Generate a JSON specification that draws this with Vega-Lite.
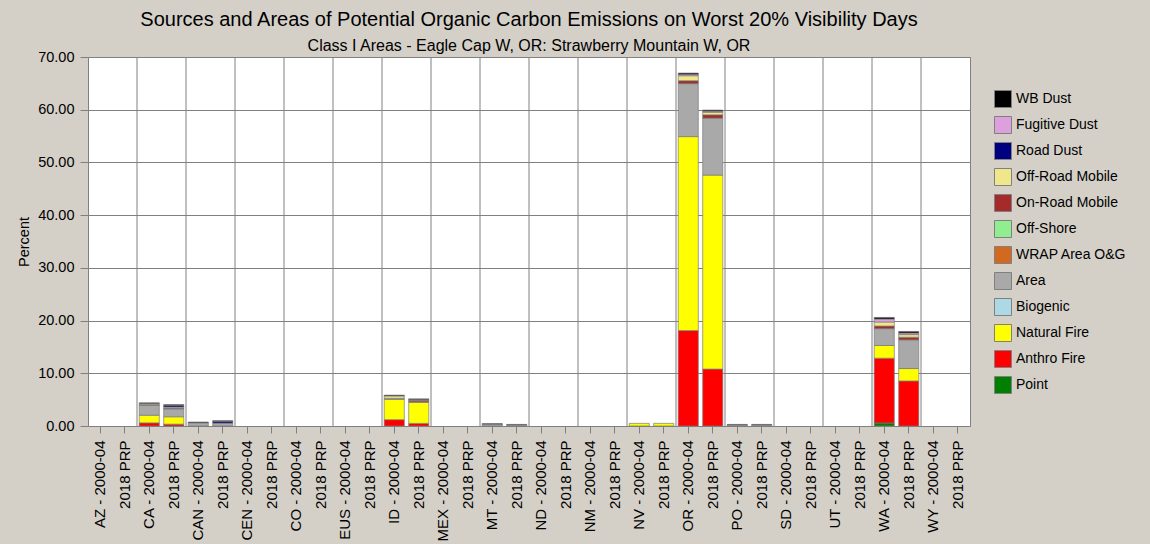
{
  "$schema": "https://vega.github.io/schema/vega-lite/v6.json",
  "width": 882,
  "height": 369,
  "autosize": {"type": "none"},
  "padding": {"left": 88, "top": 57, "right": 180, "bottom": 118},
  "background": "#D4D0C8",
  "title": {
    "text": "Sources and Areas of Potential Organic Carbon Emissions on Worst 20% Visibility Days",
    "subtitle": "Class I Areas - Eagle Cap W, OR: Strawberry Mountain W, OR",
    "anchor": "middle",
    "font": "Liberation Sans",
    "subtitleFont": "Liberation Sans",
    "fontSize": 20,
    "subtitleFontSize": 16,
    "fontWeight": "normal",
    "color": "black",
    "subtitleColor": "black",
    "offset": -5,
    "subtitlePadding": 8
  },
  "datasets": {
    "groups": [
      {"c": "CA - 2000-04"}, {"c": "CAN - 2000-04"}, {"c": "CEN - 2000-04"}, {"c": "CO - 2000-04"},
      {"c": "EUS - 2000-04"}, {"c": "ID - 2000-04"}, {"c": "MEX - 2000-04"}, {"c": "MT - 2000-04"},
      {"c": "ND - 2000-04"}, {"c": "NM - 2000-04"}, {"c": "NV - 2000-04"}, {"c": "OR - 2000-04"},
      {"c": "PO - 2000-04"}, {"c": "SD - 2000-04"}, {"c": "UT - 2000-04"}, {"c": "WA - 2000-04"},
      {"c": "WY - 2000-04"}
    ],
    "emis": [
      {"c": "CA - 2000-04", "s": "Anthro Fire", "v": 0.6},
      {"c": "CA - 2000-04", "s": "Natural Fire", "v": 1.45},
      {"c": "CA - 2000-04", "s": "Area", "v": 1.9},
      {"c": "CA - 2000-04", "s": "On-Road Mobile", "v": 0.1},
      {"c": "CA - 2000-04", "s": "Off-Road Mobile", "v": 0.2},
      {"c": "CA - 2000-04", "s": "WB Dust", "v": 0.15},
      {"c": "CA - 2018 PRP", "s": "Anthro Fire", "v": 0.35},
      {"c": "CA - 2018 PRP", "s": "Natural Fire", "v": 1.4},
      {"c": "CA - 2018 PRP", "s": "Area", "v": 1.5},
      {"c": "CA - 2018 PRP", "s": "On-Road Mobile", "v": 0.15},
      {"c": "CA - 2018 PRP", "s": "Off-Road Mobile", "v": 0.2},
      {"c": "CA - 2018 PRP", "s": "Road Dust", "v": 0.35},
      {"c": "CA - 2018 PRP", "s": "WB Dust", "v": 0.1},
      {"c": "CAN - 2000-04", "s": "Area", "v": 0.6},
      {"c": "CAN - 2000-04", "s": "WB Dust", "v": 0.15},
      {"c": "CAN - 2018 PRP", "s": "Area", "v": 0.55},
      {"c": "CAN - 2018 PRP", "s": "Road Dust", "v": 0.35},
      {"c": "CAN - 2018 PRP", "s": "WB Dust", "v": 0.1},
      {"c": "ID - 2000-04", "s": "Anthro Fire", "v": 1.2},
      {"c": "ID - 2000-04", "s": "Natural Fire", "v": 3.85},
      {"c": "ID - 2000-04", "s": "Area", "v": 0.2},
      {"c": "ID - 2000-04", "s": "Off-Road Mobile", "v": 0.45},
      {"c": "ID - 2000-04", "s": "WB Dust", "v": 0.15},
      {"c": "ID - 2018 PRP", "s": "Anthro Fire", "v": 0.5},
      {"c": "ID - 2018 PRP", "s": "Natural Fire", "v": 4.0},
      {"c": "ID - 2018 PRP", "s": "Area", "v": 0.1},
      {"c": "ID - 2018 PRP", "s": "On-Road Mobile", "v": 0.3},
      {"c": "ID - 2018 PRP", "s": "Off-Road Mobile", "v": 0.1},
      {"c": "ID - 2018 PRP", "s": "WB Dust", "v": 0.15},
      {"c": "MT - 2000-04", "s": "Area", "v": 0.35},
      {"c": "MT - 2000-04", "s": "WB Dust", "v": 0.1},
      {"c": "MT - 2018 PRP", "s": "Area", "v": 0.2},
      {"c": "MT - 2018 PRP", "s": "WB Dust", "v": 0.1},
      {"c": "NV - 2000-04", "s": "Natural Fire", "v": 0.5},
      {"c": "NV - 2018 PRP", "s": "Natural Fire", "v": 0.5},
      {"c": "OR - 2000-04", "s": "Anthro Fire", "v": 18.1},
      {"c": "OR - 2000-04", "s": "Natural Fire", "v": 36.8},
      {"c": "OR - 2000-04", "s": "Area", "v": 10.05},
      {"c": "OR - 2000-04", "s": "On-Road Mobile", "v": 0.55},
      {"c": "OR - 2000-04", "s": "Off-Road Mobile", "v": 0.95},
      {"c": "OR - 2000-04", "s": "Fugitive Dust", "v": 0.25},
      {"c": "OR - 2000-04", "s": "WB Dust", "v": 0.25},
      {"c": "OR - 2018 PRP", "s": "Anthro Fire", "v": 10.8},
      {"c": "OR - 2018 PRP", "s": "Natural Fire", "v": 36.8},
      {"c": "OR - 2018 PRP", "s": "Area", "v": 10.8},
      {"c": "OR - 2018 PRP", "s": "On-Road Mobile", "v": 0.63},
      {"c": "OR - 2018 PRP", "s": "Off-Road Mobile", "v": 0.5},
      {"c": "OR - 2018 PRP", "s": "Fugitive Dust", "v": 0.2},
      {"c": "OR - 2018 PRP", "s": "WB Dust", "v": 0.2},
      {"c": "PO - 2000-04", "s": "Area", "v": 0.2},
      {"c": "PO - 2000-04", "s": "WB Dust", "v": 0.1},
      {"c": "PO - 2018 PRP", "s": "Area", "v": 0.2},
      {"c": "PO - 2018 PRP", "s": "WB Dust", "v": 0.1},
      {"c": "WA - 2000-04", "s": "Point", "v": 0.57},
      {"c": "WA - 2000-04", "s": "Anthro Fire", "v": 12.3},
      {"c": "WA - 2000-04", "s": "Natural Fire", "v": 2.4},
      {"c": "WA - 2000-04", "s": "Area", "v": 3.2},
      {"c": "WA - 2000-04", "s": "On-Road Mobile", "v": 0.5},
      {"c": "WA - 2000-04", "s": "Off-Road Mobile", "v": 0.76},
      {"c": "WA - 2000-04", "s": "Fugitive Dust", "v": 0.57},
      {"c": "WA - 2000-04", "s": "WB Dust", "v": 0.3},
      {"c": "WA - 2018 PRP", "s": "Anthro Fire", "v": 8.55},
      {"c": "WA - 2018 PRP", "s": "Natural Fire", "v": 2.35},
      {"c": "WA - 2018 PRP", "s": "Area", "v": 5.44},
      {"c": "WA - 2018 PRP", "s": "On-Road Mobile", "v": 0.5},
      {"c": "WA - 2018 PRP", "s": "Off-Road Mobile", "v": 0.5},
      {"c": "WA - 2018 PRP", "s": "Fugitive Dust", "v": 0.3},
      {"c": "WA - 2018 PRP", "s": "WB Dust", "v": 0.3}
    ]
  },
  "layer": [
    {
      "data": {"name": "groups"},
      "mark": {"type": "rule", "color": "#808080", "strokeWidth": 1},
      "encoding": {
        "x": {
          "field": "c", "type": "nominal", "bandPosition": 0, "title": null,
          "scale": {
            "domain": ["AZ - 2000-04", "AZ - 2018 PRP", "CA - 2000-04", "CA - 2018 PRP", "CAN - 2000-04", "CAN - 2018 PRP", "CEN - 2000-04", "CEN - 2018 PRP", "CO - 2000-04", "CO - 2018 PRP", "EUS - 2000-04", "EUS - 2018 PRP", "ID - 2000-04", "ID - 2018 PRP", "MEX - 2000-04", "MEX - 2018 PRP", "MT - 2000-04", "MT - 2018 PRP", "ND - 2000-04", "ND - 2018 PRP", "NM - 2000-04", "NM - 2018 PRP", "NV - 2000-04", "NV - 2018 PRP", "OR - 2000-04", "OR - 2018 PRP", "PO - 2000-04", "PO - 2018 PRP", "SD - 2000-04", "SD - 2018 PRP", "UT - 2000-04", "UT - 2018 PRP", "WA - 2000-04", "WA - 2018 PRP", "WY - 2000-04", "WY - 2018 PRP"],
            "paddingInner": 0, "paddingOuter": 0
          },
          "axis": {"labelExpr": "indexof(datum.value, '2018 PRP') >= 0 ? '2018 PRP' : datum.value"}
        }
      }
    },
    {
      "data": {"name": "emis"},
      "transform": [
        {"calculate": "indexof(['Point', 'Anthro Fire', 'Natural Fire', 'Biogenic', 'Area', 'WRAP Area O&G', 'Off-Shore', 'On-Road Mobile', 'Off-Road Mobile', 'Road Dust', 'Fugitive Dust', 'WB Dust'], datum.s)", "as": "stackOrder"}
      ],
      "mark": {"type": "bar", "width": {"band": 0.82}, "stroke": "#7a7a7a", "strokeWidth": 0.7},
      "encoding": {
        "x": {
          "field": "c", "type": "nominal", "title": null,
          "scale": {
            "domain": ["AZ - 2000-04", "AZ - 2018 PRP", "CA - 2000-04", "CA - 2018 PRP", "CAN - 2000-04", "CAN - 2018 PRP", "CEN - 2000-04", "CEN - 2018 PRP", "CO - 2000-04", "CO - 2018 PRP", "EUS - 2000-04", "EUS - 2018 PRP", "ID - 2000-04", "ID - 2018 PRP", "MEX - 2000-04", "MEX - 2018 PRP", "MT - 2000-04", "MT - 2018 PRP", "ND - 2000-04", "ND - 2018 PRP", "NM - 2000-04", "NM - 2018 PRP", "NV - 2000-04", "NV - 2018 PRP", "OR - 2000-04", "OR - 2018 PRP", "PO - 2000-04", "PO - 2018 PRP", "SD - 2000-04", "SD - 2018 PRP", "UT - 2000-04", "UT - 2018 PRP", "WA - 2000-04", "WA - 2018 PRP", "WY - 2000-04", "WY - 2018 PRP"],
            "paddingInner": 0, "paddingOuter": 0
          },
          "axis": {"labelExpr": "indexof(datum.value, '2018 PRP') >= 0 ? '2018 PRP' : datum.value"}
        },
        "y": {
          "field": "v", "type": "quantitative", "stack": "zero", "title": "Percent",
          "scale": {"domain": [0, 70], "nice": false},
          "axis": {"values": [0, 10, 20, 30, 40, 50, 60, 70], "format": ".2f"}
        },
        "order": {"field": "stackOrder", "type": "quantitative", "sort": "ascending"},
        "color": {
          "field": "s", "type": "nominal",
          "scale": {
            "domain": ["WB Dust", "Fugitive Dust", "Road Dust", "Off-Road Mobile", "On-Road Mobile", "Off-Shore", "WRAP Area O&G", "Area", "Biogenic", "Natural Fire", "Anthro Fire", "Point"],
            "range": ["#000000", "#DDA0DD", "#000080", "#F0E68C", "#A52A2A", "#90EE90", "#D2691E", "#A9A9A9", "#ADD8E6", "#FFFF00", "#FF0000", "#008000"]
          },
          "legend": {
            "orient": "none", "legendX": 906, "legendY": 33, "title": null,
            "symbolType": "square", "symbolSize": 289, "symbolStrokeColor": "#808080", "symbolStrokeWidth": 1,
            "symbolOpacity": 1, "rowPadding": 4, "labelOffset": 4, "labelFontSize": 14,
            "labelFont": "Liberation Sans", "labelColor": "black", "labelLimit": 200
          }
        }
      }
    }
  ],
  "config": {
    "font": "Liberation Sans",
    "view": {"stroke": "#808080", "fill": "white"},
    "axisX": {
      "labelAngle": -90, "labelFontSize": 15, "labelColor": "black", "labelFont": "Liberation Sans",
      "tickSize": 7, "tickColor": "#808080", "labelPadding": 7, "domain": false, "grid": false
    },
    "axisY": {
      "labelFontSize": 14.5, "labelColor": "black", "labelFont": "Liberation Sans",
      "tickSize": 8, "tickColor": "#808080", "labelPadding": 6, "domain": false,
      "grid": true, "gridColor": "#808080", "gridOpacity": 1,
      "titleFontSize": 14.5, "titleFontWeight": "normal", "titleColor": "black", "titlePadding": 6
    }
  }
}
